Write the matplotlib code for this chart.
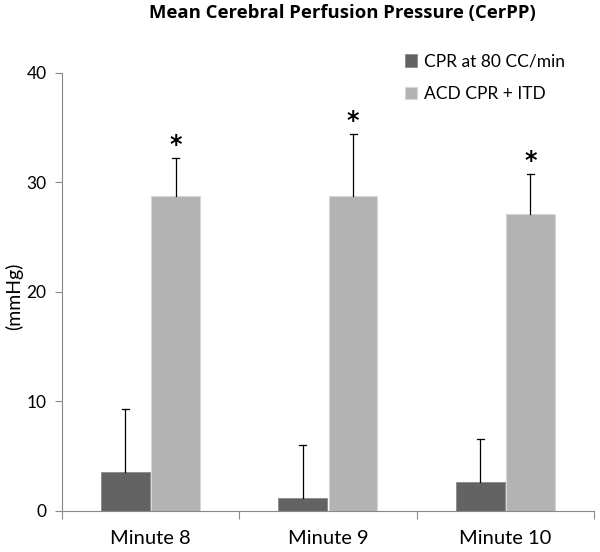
import matplotlib
matplotlib.use("Agg")
import matplotlib.pyplot as plt
import numpy as np

categories = ["Minute 8", "Minute 9", "Minute 10"]
series_names = ["CPR at 80 CC/min", "ACD CPR + ITD"]
cpr_vals = [3.6, 1.2, 2.65]
cpr_err = [5.7, 4.8, 3.95]
acd_vals = [28.8, 28.8, 27.1]
acd_err = [3.4, 5.6, 3.7]
sig_marks = ["*", "*", "*"]
yticks = [0, 10, 20, 30, 40]

plt.rcParams['font.family'] = ['Lato', 'DejaVu Sans']

fig = plt.figure(figsize=(6, 5.52), dpi=100)
ax = fig.add_axes([0.103, 0.0743, 0.887, 0.7935])

x = np.arange(len(categories))
w = 0.275
off = 0.142
dark = "#636363"
light = "#b3b3b3"

ax.bar(x - off, cpr_vals, w, color=dark, edgecolor="#8a8a8a", linewidth=0.6,
       label=series_names[0], zorder=2)
ax.bar(x + off, acd_vals, w, color=light, edgecolor="#d6d6d6", linewidth=0.8,
       label=series_names[1], zorder=2)

cap = 0.02
for xs, vals, errs in [(x - off, cpr_vals, cpr_err), (x + off, acd_vals, acd_err)]:
    for xi, v, e in zip(xs, vals, errs):
        ax.plot([xi, xi], [v, v + e], color="black", lw=0.9, zorder=3)
        ax.plot([xi - cap, xi + cap], [v + e, v + e], color="black", lw=0.9, zorder=3)

for xi, v, e, s in zip(x + off, acd_vals, acd_err, sig_marks):
    ax.text(xi, v + e + 0.1, s, ha="center", va="bottom", fontsize=17,
            fontweight="bold", color="black", family="DejaVu Sans")

ax.set_xlim(-0.5, 2.5)
ax.set_ylim(0, 40)
ax.set_yticks(yticks)
ax.set_yticklabels([str(t) for t in yticks], fontsize=12.5)
ax.set_xticks([-0.5, 0.5, 1.5, 2.5])
ax.set_xticklabels([])
ax.set_xticks(x, minor=True)
ax.set_xticklabels(categories, minor=True, fontsize=14.5)
ax.tick_params(axis="x", which="minor", length=0, pad=14)
ax.tick_params(axis="x", which="major", length=6, color="#888888", width=0.8)
ax.tick_params(axis="y", length=5, color="#888888", width=0.8, pad=6)

for sp in ["top", "right"]:
    ax.spines[sp].set_visible(False)
for sp in ["left", "bottom"]:
    ax.spines[sp].set_color("#888888")
    ax.spines[sp].set_linewidth(0.8)

ax.set_ylabel("(mmHg)", fontsize=14)
ax.yaxis.set_label_coords(-0.073, 0.489)
fig.text(0.57, 0.976, "Mean Cerebral Perfusion Pressure (CerPP)", fontsize=13.3,
         fontweight="bold", ha="center", va="center", family="Open Sans")

leg = ax.legend(loc="upper right", bbox_to_anchor=(0.975, 1.08), frameon=False,
                fontsize=12.5, handlelength=0.7, handleheight=0.7,
                handletextpad=0.4, labelspacing=0.95)

fig.savefig("out.png", dpi=100)
